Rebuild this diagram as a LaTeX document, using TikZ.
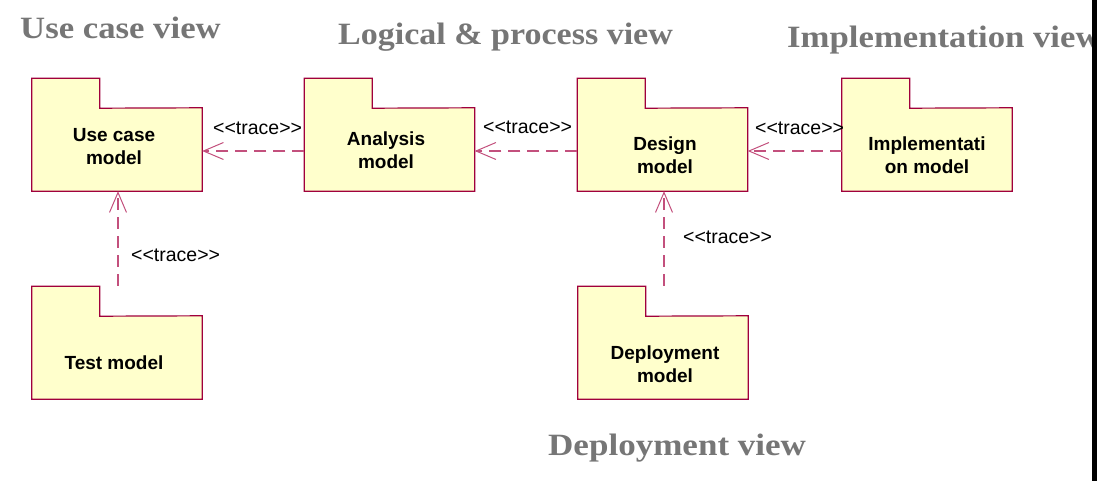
\documentclass[tikz,border=0pt]{standalone}
\usepackage{fontspec}
\setmainfont{Liberation Serif}
\setsansfont{Liberation Sans}
\usetikzlibrary{arrows.meta}
\definecolor{pkgfill}{RGB}{255,255,204}
\definecolor{pkgdraw}{RGB}{160,0,60}
\definecolor{tracecol}{RGB}{195,80,125}
\definecolor{titlegray}{RGB}{118,118,118}
\tikzset{
  pkgbody/.style={fill=pkgfill, minimum width=170pt, minimum height=83pt, inner sep=0pt},
  pkgline/.style={draw=pkgdraw, line width=1.2pt, line join=miter},
  pkgtext/.style={font=\sffamily\bfseries\fontsize{19}{23}\selectfont, align=center, inner sep=0pt},
  tracelabel/.style={font=\sffamily\fontsize{19.5}{22}\selectfont, inner sep=0pt, anchor=base west},
  trace/.style={draw=tracecol, line width=1.4pt, dash pattern=on 12pt off 7pt,
    -{Straight Barb[length=20pt, width=17pt, line width=1pt]}},
  viewtitle/.style={font=\rmfamily\bfseries\fontsize{31}{36}\selectfont, text=titlegray, inner sep=0pt, anchor=base west}
}
\newcommand{\pkgoutline}[1]{%
  \fill[pkgfill] (#1.north west) rectangle ++(68,-30);
  \draw[pkgline] (#1.south west) -- ++(0,-113) -- ++(68,0) -- ++(0,30)
     -- (#1.north east) -- (#1.south east) -- cycle;}
\newcommand{\tracetxt}{<\kern0pt<trace>\kern0pt>}
\begin{document}
\begin{tikzpicture}[x=1pt,y=-1pt]
\useasboundingbox (0,0) rectangle (1105,481);
\fill[white] (0,0) rectangle (1105,481);

% titles
\node[viewtitle] (t1) at (20,39) {\scalebox{1.12}[1]{Use case view}};
\node[viewtitle] (t2) at (338,45) {\scalebox{1.097}[1]{Logical \& process view}};
\begin{scope}
\clip (0,0) rectangle (1092,481);
\node[viewtitle] (t3) at (787,48) {\scalebox{1.12}[1]{Implementation view}};
\end{scope}
\node[viewtitle] (t4) at (548,455) {\scalebox{1.13}[1]{Deployment view}};

% packages
\node[pkgbody] (uc) at (117,149.5) {};
\pkgoutline{uc}
\node[pkgtext] (uct) at (114,146.5) {Use case\\model};

\node[pkgbody] (an) at (389.5,149.5) {};
\pkgoutline{an}
\node[pkgtext] (ant) at (386,150.5) {Analysis\\model};

\node[pkgbody] (de) at (662.5,149.5) {};
\pkgoutline{de}
\node[pkgtext] (det) at (665,155.5) {Design\\model};

\node[pkgbody] (im) at (927,149.5) {};
\pkgoutline{im}
\node[pkgtext] (imt) at (927,155.5) {Implementati\\on model};

\node[pkgbody] (te) at (117,357.5) {};
\pkgoutline{te}
\node[pkgtext] (tet) at (114,363) {Test model};

\node[pkgbody] (dp) at (663,357.5) {};
\pkgoutline{dp}
\node[pkgtext] (dpt) at (665,364) {Deployment\\model};

% trace connectors
\draw[trace] (an.west |- 0,151) -- (uc.east |- 0,151);
\draw[trace] (de.west |- 0,151) -- (an.east |- 0,151);
\draw[trace] (im.west |- 0,151) -- (de.east |- 0,151);
\draw[trace] (te.north -| 118,0) ++(0,-30) -- (uc.south -| 118,0);
\draw[trace] (dp.north -| 664,0) ++(0,-30) -- (de.south -| 664,0);

% labels
\node[tracelabel] (l1) at (213,135) {\tracetxt};
\node[tracelabel] (l2) at (483,134) {\tracetxt};
\node[tracelabel] (l3) at (755,135) {\tracetxt};
\node[tracelabel] (l4) at (131,261) {\tracetxt};
\node[tracelabel] (l5) at (683,243) {\tracetxt};

% right black bar
\fill[black] (1092,0) rectangle (1097,481);
\end{tikzpicture}
\end{document}
